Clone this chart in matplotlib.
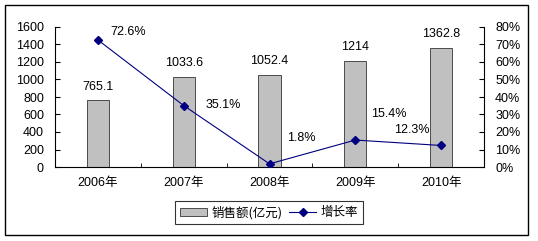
import matplotlib.pyplot as plt
from matplotlib.patches import Rectangle

plt.rcParams['font.family'] = ['Liberation Sans', 'Noto Sans CJK SC', 'DejaVu Sans']

years = ['2006年', '2007年', '2008年', '2009年', '2010年']
sales = [765.1, 1033.6, 1052.4, 1214, 1362.8]
growth = [72.6, 35.1, 1.8, 15.4, 12.3]
growth_labels = ['72.6%', '35.1%', '1.8%', '15.4%', '12.3%']

fig = plt.figure(figsize=(5.38, 2.41), dpi=100)
ax = fig.add_axes([55 / 538, 1 - 167 / 241, 429 / 538, 140 / 241])
ax2 = ax.twinx()

x = list(range(len(years)))
bars = ax.bar(x, sales, width=0.26, color='#c0c0c0', edgecolor='#333333', linewidth=0.6)
for xi, v in zip(x, sales):
    ax.text(xi, v + 85, f'{v:g}', ha='center', va='bottom', fontsize=9)

line, = ax2.plot(x, growth, color='#000080', marker='D', markersize=3.8, linewidth=0.8)
# label offsets (x in categories, y in percent points)
offsets = [(0.15, 4.5), (0.25, 0.5), (0.21, 14.6), (0.18, 15), (-0.55, 9)]
for xi, g, lab, (dx, dy) in zip(x, growth, growth_labels, offsets):
    ax2.text(xi + dx, g + dy, lab, ha='left', va='center', fontsize=9)

ax.set_xlim(-0.5, 4.5)
ax.set_ylim(0, 1600)
ax.set_yticks(range(0, 1601, 200))
ax2.set_ylim(0, 80)
ax2.set_yticks(range(0, 81, 10))
ax2.set_yticklabels([f'{t}%' for t in range(0, 81, 10)])

ax.set_xticks(x)
ax.set_xticklabels(years, fontsize=9)
ax.tick_params(axis='x', length=0, pad=7)
ax.set_xticks([i + 0.5 for i in range(-1, 5)], minor=True)
ax.tick_params(axis='x', which='minor', direction='in', length=3)
ax.tick_params(axis='y', direction='in', length=3.5, labelsize=9, pad=8)
ax2.tick_params(axis='y', direction='in', length=3.5, labelsize=9, pad=8)

for a in (ax, ax2):
    a.spines['top'].set_visible(False)
    a.patch.set_visible(False)
ax.spines['right'].set_visible(False)
for s in ('left', 'bottom'):
    ax.spines[s].set_linewidth(0.8)
ax2.spines['right'].set_linewidth(0.8)
ax2.spines['left'].set_visible(False)
ax2.spines['bottom'].set_visible(False)

leg = fig.legend([bars, line], ['销售额(亿元)', '增长率'], loc='center',
                 bbox_to_anchor=(269 / 538, 1 - 212.5 / 241), ncol=2, fontsize=9,
                 frameon=True, fancybox=False, edgecolor='black', handlelength=2.2,
                 handleheight=0.6, columnspacing=0.5, handletextpad=0.35,
                 borderpad=0.35, borderaxespad=0)
leg.get_frame().set_linewidth(0.8)
for t in leg.get_texts():
    t.set_fontfamily(['Noto Sans CJK SC', 'DejaVu Sans'])

fig.patches.append(Rectangle((5 / 538, 1 - 235 / 241), 523 / 538, 230 / 241,
                             transform=fig.transFigure, fill=False, edgecolor='black',
                             linewidth=1.0))

fig.savefig('out.png', dpi=100)
